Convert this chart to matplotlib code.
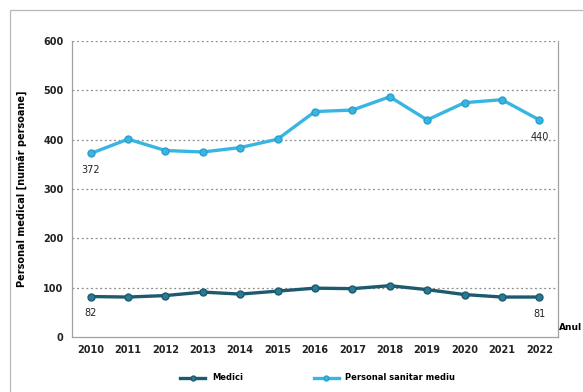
import matplotlib
matplotlib.use("Agg")
import matplotlib.pyplot as plt
from matplotlib.patches import Rectangle

years = [2010, 2011, 2012, 2013, 2014, 2015, 2016, 2017, 2018, 2019, 2020, 2021, 2022]
medici = [82, 81, 84, 91, 87, 93, 99, 98, 104, 96, 86, 81, 81]
personal = [372, 401, 378, 375, 384, 401, 457, 460, 487, 440, 475, 481, 440]
yticks = [0, 100, 200, 300, 400, 500, 600]

plt.rcParams['font.family'] = ['DejaVu Sans']

fig = plt.figure(figsize=(5.83, 3.92), dpi=100)
fig.patch.set_facecolor('white')

# outer frame (partially cropped)
fig.patches.append(Rectangle((10/583, -0.1), 1.2, (392-10)/392 + 0.1,
                             transform=fig.transFigure, fill=False,
                             edgecolor='#b8b8b8', linewidth=0.9))

ax = fig.add_axes([72/583, (392-337)/392, (558-72)/583, (337-41)/392])

c_med = '#1d5a6e'
c_med_m = '#2b7a95'
c_pers = '#38b6e3'

ax.plot(years, medici, color=c_med, linewidth=2.4, marker='o', markersize=5,
        markerfacecolor=c_med_m, markeredgecolor=c_med, label='Medici', zorder=3)
ax.plot(years, personal, color=c_pers, linewidth=2.4, marker='o', markersize=5,
        markerfacecolor=c_pers, markeredgecolor='#2a9fcb', label='Personal sanitar mediu', zorder=3)

ax.set_xlim(2009.5, 2022.5)
ax.set_ylim(0, 600)
ax.set_yticks(yticks)
ax.set_xticks(years)
ax.tick_params(axis='both', length=0, labelsize=7, pad=6)
for lbl in ax.get_xticklabels() + ax.get_yticklabels():
    lbl.set_fontweight('bold')
    lbl.set_color('#222222')

for y in yticks[1:]:
    ax.axhline(y, color='#8a8a8a', linewidth=0.9, linestyle=(0, (1.5, 2.2)), zorder=1)

for s in ax.spines.values():
    s.set_color('#a0a0a0')
    s.set_linewidth(0.9)
ax.spines['top'].set_visible(False)

ax.set_ylabel('Personal medical [număr persoane]', fontsize=7, fontweight='bold', labelpad=12)

# annotations
for xs, ys in [(0, personal), (-1, personal), (0, medici), (-1, medici)]:
    ax.annotate(str(ys[xs]), (years[xs], ys[xs]), xytext=(0, -12), textcoords='offset points',
                ha='center', va='center', fontsize=7, color='#222222')

fig.text(582/583, (392-327)/392, 'Anul', fontsize=6.5, fontweight='bold', ha='right', va='center')

leg = fig.legend(loc='center', bbox_to_anchor=(0.545, (392-378)/392), ncol=2, frameon=False,
                 fontsize=6, columnspacing=8.5, handlelength=3, markerscale=0.7)
for t in leg.get_texts():
    t.set_fontweight('bold')

fig.savefig('out.png', dpi=100)
